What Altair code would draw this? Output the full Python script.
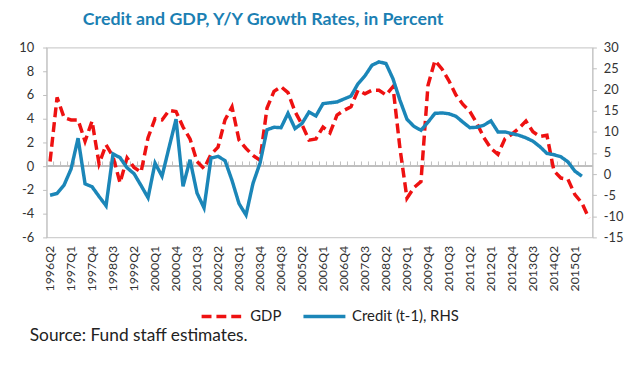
import altair as alt
import pandas as pd

# Categories: quarterly, 1996Q2 .. 2015Q3
quarters = [f"{y}Q{q}" for y in range(1996, 2016) for q in range(1, 5)][1:79]
label_quarters = quarters[::3]

gdp = [0.4, 5.8, 4.1, 3.9, 3.9, 2.1, 3.8, 0.2, 1.8, 0.8,
       -1.4, 0.7, -0.1, -0.5, 2.4, 4.0, 3.9, 4.7, 4.6, 3.3,
       2.3, 0.4, -0.2, 1.0, 1.6, 3.9, 5.0, 2.2, 1.5, 0.9,
       0.5, 4.9, 6.3, 6.7, 6.2, 4.6, 3.5, 2.2, 2.3, 3.3,
       2.8, 4.3, 4.7, 5.0, 6.4, 6.1, 6.4, 6.4, 6.0, 6.7,
       1.5, -2.7, -1.8, -1.3, 6.8, 8.9, 8.2, 7.2, 6.0, 5.2,
       4.6, 3.6, 2.4, 1.5, 1.0, 2.3, 2.7, 3.2, 3.8, 2.9,
       2.5, 2.6, -0.4, -1.0, -1.1, -2.4, -3.1, -4.4]

credit = [-5.0, -4.6, -2.6, 1.2, 8.5, -2.3, -3.0, -5.3, -7.5, 4.8,
          3.9, 1.5, 0.1, -2.7, -5.6, 2.6, -0.5, 6.3, 13.0, -2.9,
          3.4, -4.5, -8.0, 3.8, 4.2, 3.2, -1.5, -7.0, -9.7, -2.2,
          2.6, 10.5, 11.1, 11.0, 14.4, 10.8, 12.0, 14.7, 13.8, 16.7,
          16.9, 17.1, 17.8, 18.5, 21.4, 23.3, 25.8, 26.6, 26.2, 22.6,
          17.5, 13.0, 11.3, 10.4, 12.3, 14.4, 14.5, 14.3, 13.7, 12.3,
          11.0, 11.1, 11.6, 12.6, 10.0, 10.0, 9.6, 9.2, 8.6, 7.8,
          6.5, 4.9, 4.6, 4.1, 2.9, 0.7, -0.5, None]

series_names = ["GDP", "Credit (t-1), RHS"]
left_ticks = [-6, -4, -2, 0, 2, 4, 6, 8, 10]
right_ticks = [-15, -10, -5, 0, 5, 10, 15, 20, 25, 30]

RED = "#ee1111"
BLUE = "#1b86b8"
FONT = "Lato"
MINUS_FIX = "replace(datum.label, '\u2212', '-')"

gdp_df = pd.DataFrame({"quarter": quarters, "value": gdp, "series": series_names[0]})
credit_df = pd.DataFrame({"quarter": quarters, "value": credit, "series": series_names[1]}).dropna()
q_df = pd.DataFrame({"quarter": quarters})

x_scale = alt.Scale(type="band", domain=quarters, paddingInner=0, paddingOuter=0)
x_axis = alt.Axis(values=label_quarters, labelAngle=270, ticks=False, domain=False,
                  labelPadding=8, labelFontSize=12.5, labelFont=FONT, labelColor="#333333",
                  title=None, grid=False)


def xenc(bp):
    return alt.X("quarter:O", bandPosition=bp, scale=x_scale, axis=x_axis, sort=quarters)


def legend():
    return alt.Legend(title=None, orient="none", legendX=155, legendY=249,
                      direction="horizontal", symbolType="stroke",
                      symbolSize=1800, symbolStrokeWidth=3.5,
                      labelFontSize=15, labelFont=FONT, labelColor="#222222",
                      columnPadding=14, labelOffset=5)


color = alt.Color("series:N", scale=alt.Scale(domain=series_names, range=[RED, BLUE]),
                  legend=legend())
dash = alt.StrokeDash("series:N", scale=alt.Scale(domain=series_names, range=[[10, 5], [1, 0]]),
                      legend=legend())

y_left = alt.Scale(domain=[-6, 10], nice=False, zero=False)
y_left_axis = alt.Axis(values=left_ticks, grid=False, domainColor="#bfbfbf", tickColor="#bfbfbf",
                       tickSize=4, labelPadding=9, labelFontSize=13, labelFont=FONT,
                       labelColor="#333333", title=None, labelExpr=MINUS_FIX)
y_right = alt.Scale(domain=[-15, 30], nice=False, zero=False)
y_right_axis = alt.Axis(values=right_ticks, orient="right", grid=False, domainColor="#bfbfbf",
                        tickColor="#bfbfbf", tickSize=4, labelPadding=7, labelFontSize=13,
                        labelFont=FONT, labelColor="#333333", title=None, labelExpr=MINUS_FIX)

zero = alt.Chart(q_df).mark_rule(color="#bfbfbf", strokeWidth=1.5).encode(
    y=alt.datum(0, scale=y_left, axis=y_left_axis)
)
ticks = alt.Chart(q_df).mark_rule(color="#bfbfbf", strokeWidth=1).encode(
    x=xenc(0),
    y=alt.datum(0, scale=y_left, axis=y_left_axis),
    y2=alt.datum(0.4),
)
gdp_line = alt.Chart(gdp_df).mark_line(strokeWidth=3.5).encode(
    x=xenc(0.5),
    y=alt.Y("value:Q", scale=y_left, axis=y_left_axis),
    color=color,
    strokeDash=dash,
    order=alt.Order("idx:Q"),
).transform_window(idx="row_number()")
source = alt.Chart(pd.DataFrame({"t": ["Source: Fund staff estimates."]})).mark_text(
    align="left", baseline="middle", fontSize=17.5, font=FONT, color="#222222"
).encode(text="t:N", x=alt.value(-17), y=alt.value(292))

left = alt.layer(zero, ticks, gdp_line, source)

credit_line = alt.Chart(credit_df).mark_line(strokeWidth=3.5).encode(
    x=xenc(0.5),
    y=alt.Y("value:Q", scale=y_right, axis=y_right_axis),
    color=color,
    strokeDash=dash,
    order=alt.Order("idx:Q"),
).transform_window(idx="row_number()")

chart = alt.layer(left, credit_line).resolve_scale(y="independent").properties(
    width=552,
    height=192,
    autosize="none",
    padding={"left": 39, "top": 38, "right": 37, "bottom": 120},
    title=alt.TitleParams("Credit and GDP, Y/Y Growth Rates, in Percent", anchor="middle",
                          frame="group", dx=-57, fontSize=18, font=FONT, fontWeight="bold",
                          color="#1b7fb3", offset=12.5),
).configure_view(stroke="#d0d0d0", strokeWidth=1.2)

chart.save("out.html", embed_options={"renderer": "svg", "actions": False})
